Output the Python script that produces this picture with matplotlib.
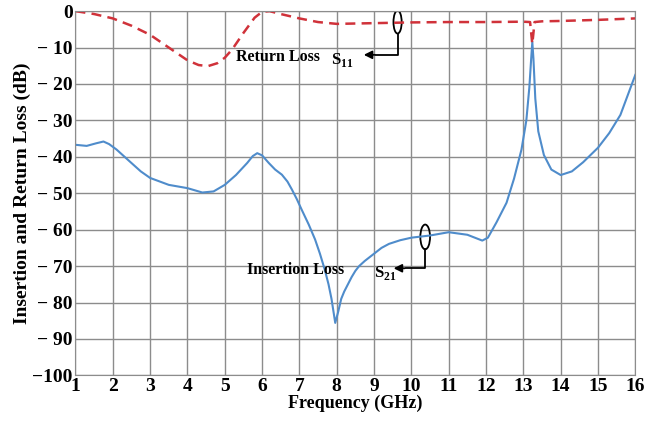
import numpy as np
import matplotlib
matplotlib.use("Agg")
import matplotlib.pyplot as plt
from matplotlib.patches import Ellipse

plt.rcParams['font.family'] = ['Liberation Serif', 'DejaVu Serif']
plt.rcParams['font.weight'] = 'bold'
plt.rcParams['mathtext.fontset'] = 'custom'
plt.rcParams['mathtext.rm'] = 'Liberation Serif:bold'
plt.rcParams['mathtext.bf'] = 'Liberation Serif:bold'

# S21 (insertion loss)
s21_f = [1.0, 1.3, 1.55, 1.75, 1.9, 2.1, 2.5, 2.75, 3.0, 3.5, 4.0, 4.4, 4.7, 5.0, 5.3, 5.6,
         5.75, 5.87, 6.0, 6.18, 6.35, 6.53, 6.68, 6.8, 6.93, 7.06, 7.25, 7.42, 7.55, 7.68,
         7.78, 7.86, 7.96, 8.04, 8.12, 8.2, 8.3, 8.4, 8.5, 8.6, 8.75, 9.0, 9.2, 9.4, 9.7,
         10.0, 10.5, 11.0, 11.5, 11.7, 11.9, 12.05, 12.28, 12.55, 12.75, 12.95, 13.08,
         13.16, 13.21, 13.24, 13.27, 13.32, 13.4, 13.55, 13.75, 14.0, 14.3, 14.6, 15.0,
         15.3, 15.6, 16.0]
s21_db = [-36.7, -37, -36.3, -35.8, -36.5, -38, -41.7, -44, -45.8, -47.7, -48.6, -49.8, -49.5,
          -47.7, -45, -41.7, -39.8, -39, -39.6, -41.7, -43.5, -44.9, -46.8, -49, -51.6, -54.5,
          -58.6, -62.7, -66.6, -71, -75, -79, -85.6, -82.5, -79, -77, -75, -73, -71.3, -70,
          -68.6, -66.6, -65, -63.9, -62.9, -62.2, -61.6, -60.7, -61.4, -62.2, -63, -62.2,
          -58, -52.6, -46, -38, -30, -21, -13, -8.5, -13, -24, -33, -39.5, -43.5, -45, -44,
          -41.5, -37.5, -33.5, -28.5, -17.5]

# S11 (return loss)
s11_f = [1.0, 1.5, 2.0, 2.5, 3.0, 3.5, 4.0, 4.3, 4.55, 4.8, 5.0, 5.2, 5.5, 5.8, 6.0, 6.2,
         6.5, 7.0, 7.5, 8.0, 9.0, 10.0, 11.0, 12.0, 13.0, 13.18, 13.24, 13.3, 13.5, 14.0,
         15.0, 16.0]
s11_db = [0, -0.8, -2, -4, -6.5, -10, -13.5, -14.8, -15.1, -14.3, -12.8, -10.5, -6, -1.8,
          -0.2, 0, -0.8, -2, -3, -3.5, -3.3, -3.1, -3, -3, -2.9, -3, -9, -3, -2.8, -2.7,
          -2.4, -2]

freq_ticks = list(range(1, 17))
db_ticks = list(range(-100, 1, 10))

fig = plt.figure(figsize=(6.45, 4.28), dpi=100)
ax = fig.add_axes([0.117, 0.123, 0.868, 0.851])

ax.plot(s21_f, s21_db, color='#4f8ccb', lw=1.5)
ax.plot(s11_f, s11_db, color='#d0323a', lw=1.8, ls=(0, (4, 2.5)))

ax.set_xlim(1, 16)
ax.set_ylim(-100, 0)
ax.set_xticks(freq_ticks)
ax.set_yticks(db_ticks)
ax.set_yticklabels(['\u2212100' if v == -100 else ('0' if v == 0 else '\u2212 %d' % -v) for v in db_ticks])
ax.tick_params(length=0, labelsize=14, pad=2)
ax.grid(True, color='#8c8c8c', lw=1.0)
for s in ax.spines.values():
    s.set_color('#8c8c8c')
ax.set_axisbelow(True)

ax.set_xlabel('Frequency (GHz)', fontsize=13, fontweight='bold', labelpad=0)
ax.set_ylabel('Insertion and Return Loss (dB)', fontsize=14, fontweight='bold', labelpad=1)

# annotations
ax.text(5.3, -12.7, 'Return Loss', fontsize=11.5, fontweight='bold', va='center')
ax.text(7.85, -13.5, r'S$_{11}$', fontsize=12, fontweight='bold', va='center')
ax.add_patch(Ellipse((9.63, -3.0), 0.22, 6.3, fill=False, ec='black', lw=1.3))
ax.plot([9.63, 9.63, 9.05], [-6.15, -12.0, -12.0], color='black', lw=1.3)
ax.annotate('', xy=(8.65, -12.0), xytext=(9.1, -12.0),
            arrowprops=dict(arrowstyle='-|>', color='black', lw=1.3, mutation_scale=12))

ax.text(5.6, -71.2, 'Insertion Loss', fontsize=11.5, fontweight='bold', va='center')
ax.text(9.0, -72.0, r'S$_{21}$', fontsize=12, fontweight='bold', va='center')
ax.add_patch(Ellipse((10.37, -62.0), 0.26, 6.8, fill=False, ec='black', lw=1.3))
ax.plot([10.37, 10.37, 9.85], [-65.4, -70.6, -70.6], color='black', lw=1.3)
ax.annotate('', xy=(9.45, -70.6), xytext=(9.9, -70.6),
            arrowprops=dict(arrowstyle='-|>', color='black', lw=1.3, mutation_scale=12))

fig.savefig('out.png', dpi=100)
